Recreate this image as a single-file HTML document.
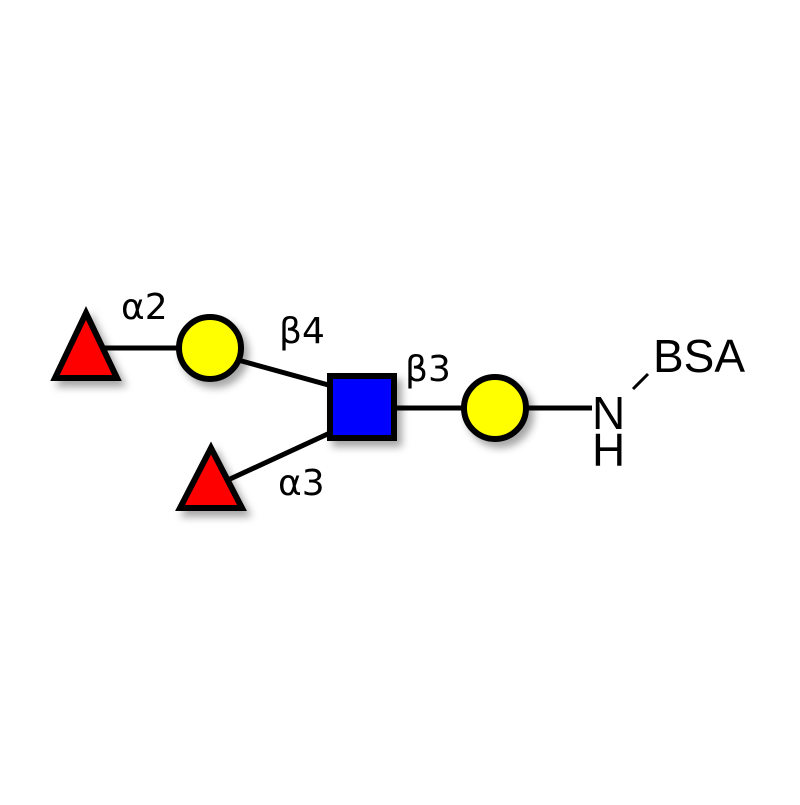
<!DOCTYPE html>
<html><head><style>body{margin:0;background:#fff}</style></head><body>
<svg width="800" height="800" viewBox="0 0 800 800" xmlns="http://www.w3.org/2000/svg">
<defs><filter id="s" x="-30%" y="-30%" width="170%" height="170%"><feDropShadow dx="5" dy="6" stdDeviation="4" flood-color="#000" flood-opacity="0.35"/></filter></defs>
<g stroke="#000" stroke-width="5" fill="none">
<line x1="100" y1="348" x2="182" y2="348"/>
<line x1="238" y1="360" x2="332" y2="386"/>
<line x1="230" y1="479" x2="332" y2="432"/>
<line x1="395" y1="408" x2="465" y2="408"/>
<line x1="525" y1="408" x2="592" y2="408"/>
</g>
<line x1="633" y1="389" x2="648" y2="374" stroke="#000" stroke-width="3"/>
<g stroke="#000" stroke-width="6" filter="url(#s)">
<polygon points="86,313 55,378 117,378" fill="#f00"/>
<circle cx="210" cy="348" r="31" fill="#ff0"/>
<rect x="330" y="376" width="64" height="62" fill="#00f"/>
<polygon points="211,448 180,508 242,508" fill="#f00"/>
<circle cx="495" cy="408" r="31" fill="#ff0"/>
</g>
<g font-family="'DejaVu Sans','Liberation Sans',sans-serif" font-size="36" fill="#000">
<text x="121" y="319">α2</text>
<text x="279" y="343">β4</text>
<text x="405" y="381">β3</text>
<text x="278" y="495">α3</text>
</g>
<g font-family="'Liberation Sans',sans-serif" font-size="46" fill="#000">
<text x="592" y="429">N</text>
<text x="592" y="466">H</text>
<text x="653" y="372">BSA</text>
</g>
</svg>
</body></html>
